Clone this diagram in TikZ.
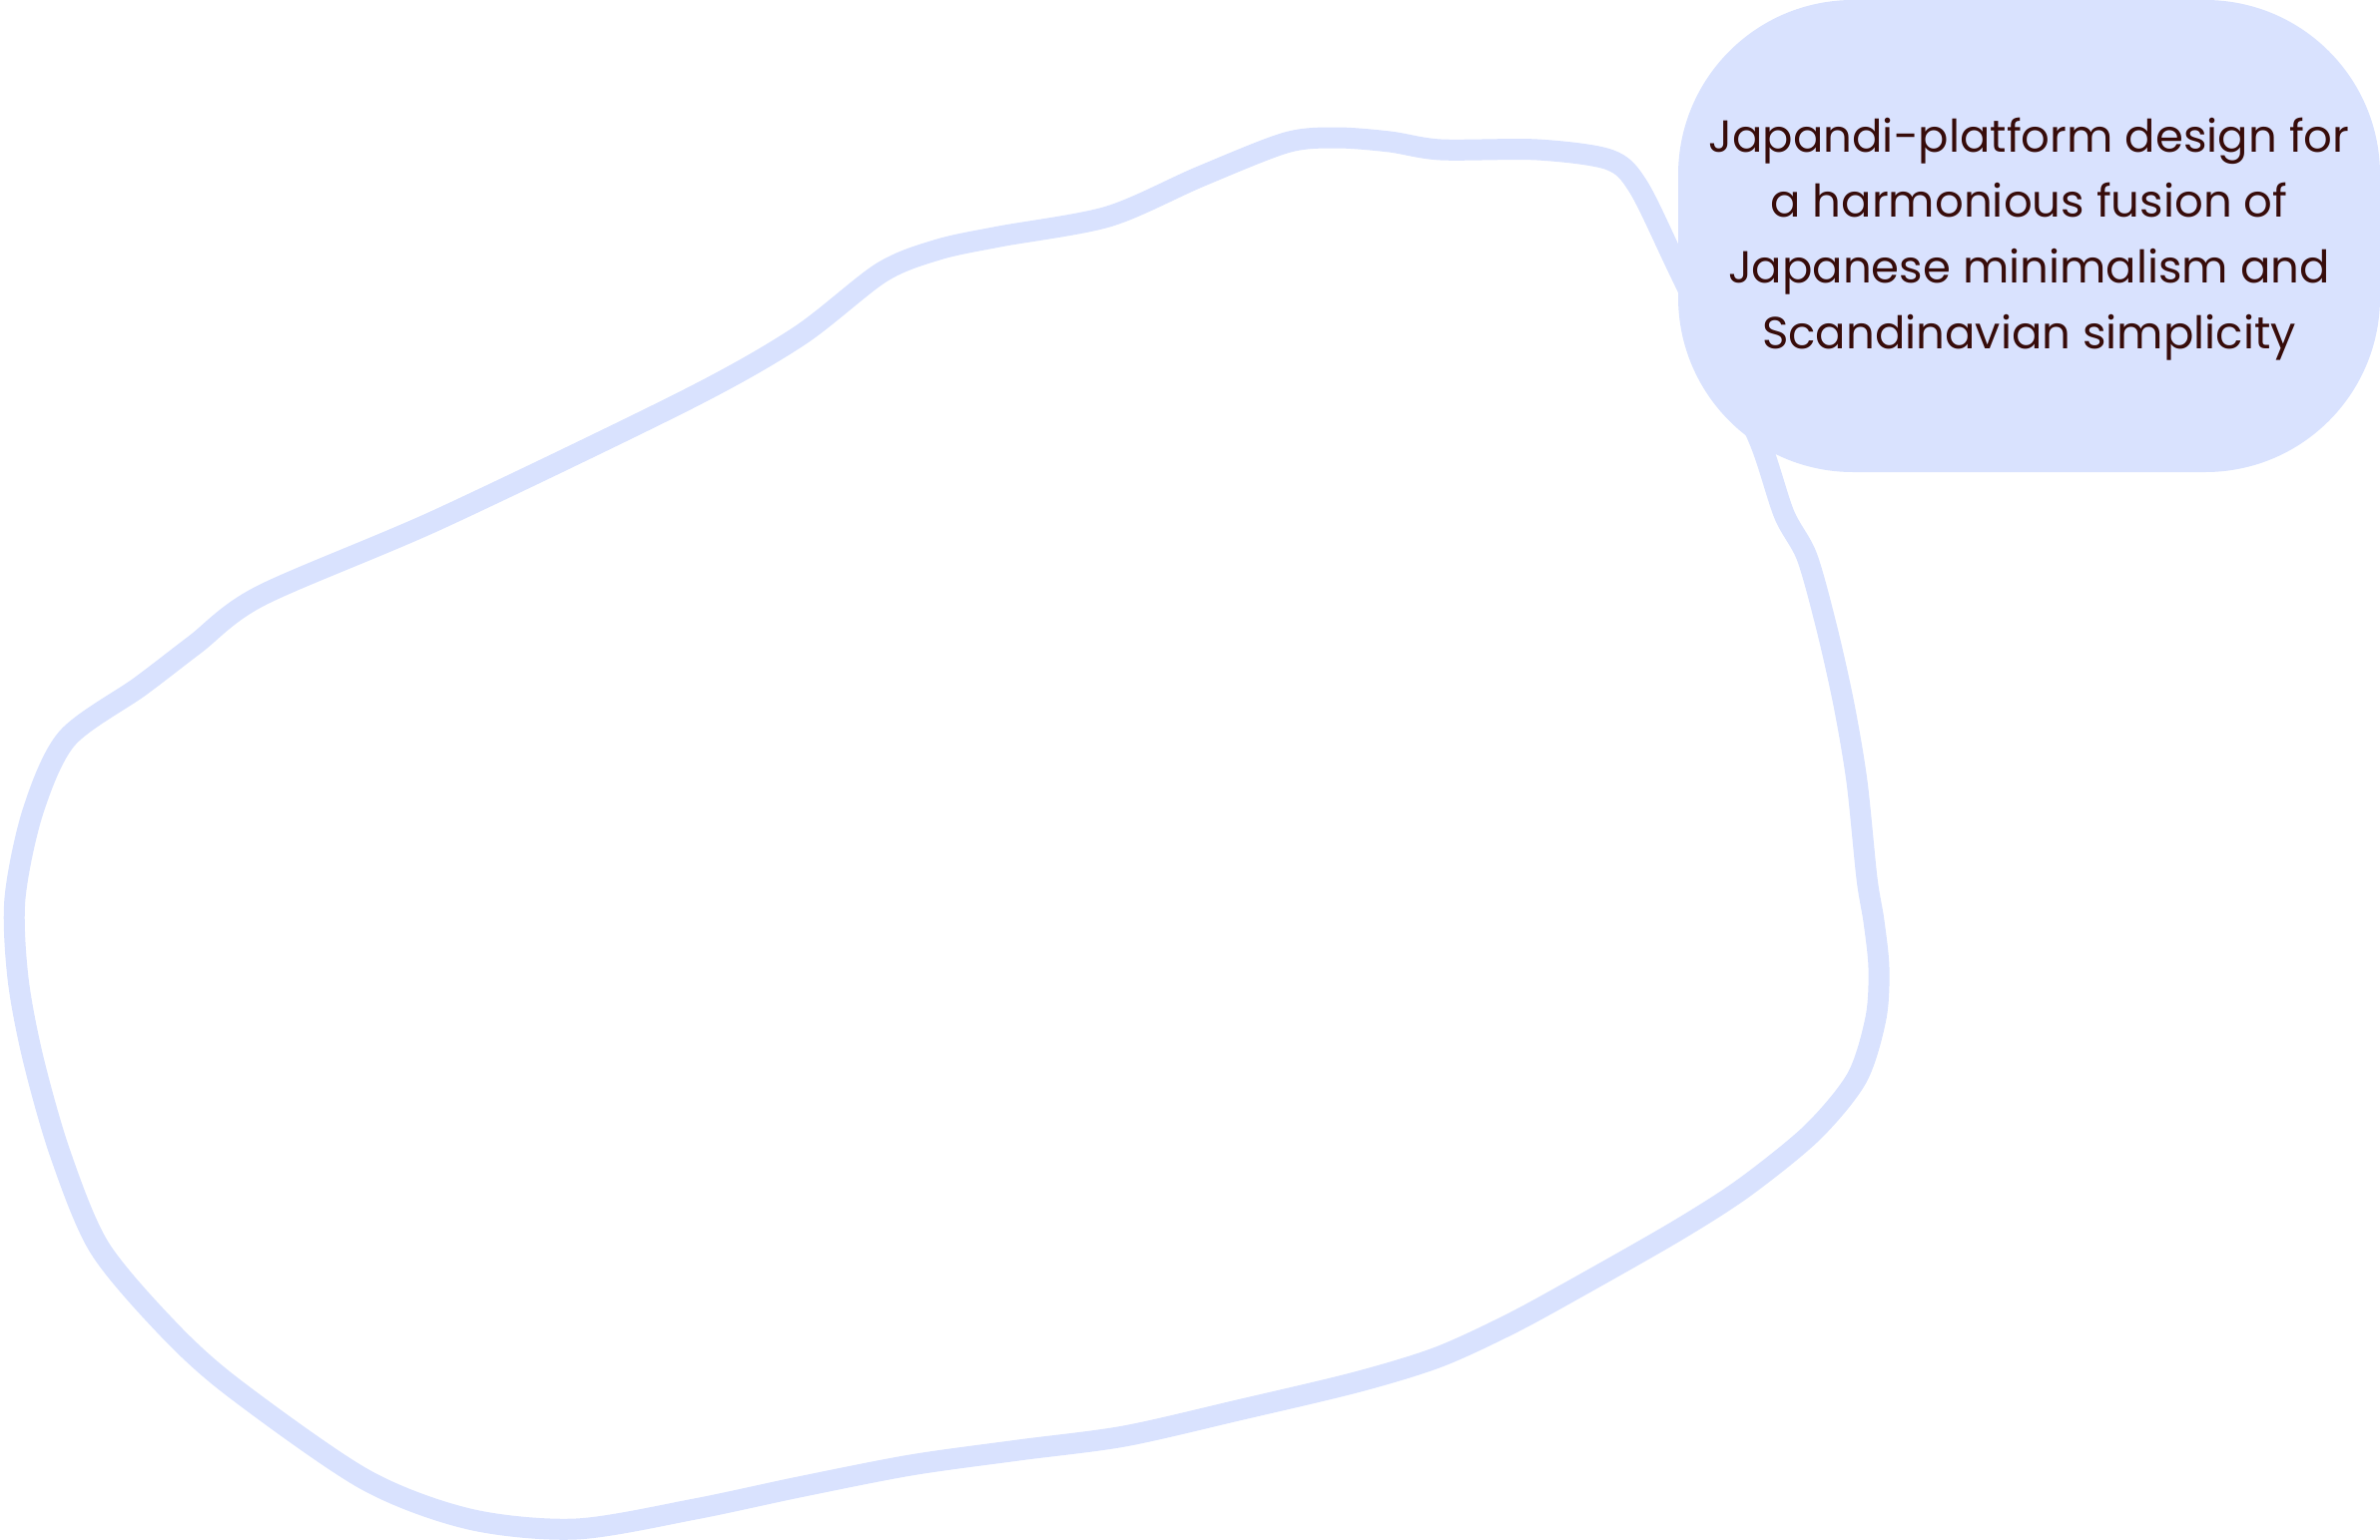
\documentclass[tikz,border=0pt]{standalone}
\usepackage{fontspec}
\setmainfont{Poppins}
\definecolor{blobblue}{RGB}{217,226,254}
\definecolor{inkbrown}{RGB}{55,12,10}
\begin{document}
\begin{tikzpicture}[x=1pt,y=-1pt,
  blobline/.style={draw=blobblue,line width=21pt,line join=round},
  notebox/.style={fill=blobblue,rounded corners=175pt,minimum width=703pt,minimum height=473pt,inner sep=0pt},
  notetext/.style={inner sep=0pt,align=center,text=inkbrown,font=\fontsize{45}{65.8}\selectfont}]
\useasboundingbox (0,0) rectangle (2384,1542);
\draw[blobline] plot[smooth cycle,tension=0.5] coordinates {
 (1338,138) (1392,142) (1443,150) (1540,150) (1612,160) (1641,187) (1680,267) (1722,355)
 (1763,443) (1787,515) (1810,558) (1830,630) (1847,706) (1860,783) (1870,880) (1877,923)
 (1882,970) (1879,1020) (1860,1080) (1815,1135) (1747,1190) (1680,1233) (1580,1290)
 (1512,1327) (1440,1360) (1358,1385) (1240,1413) (1126,1439) (1020,1453) (912,1468)
 (800,1490) (696,1512) (577,1532) (470,1522) (365,1482) (232,1389) (166,1329)
 (99,1249) (60,1155) (33,1060) (18,980) (15,900) (33,813) (67,740) (140,688) (195,646)
 (261,597) (440,520) (689,400) (800,337) (883,273) (940,250) (1001,237) (1110,217)
 (1202,177) (1288,143)};
\node[notebox] (note) at (2032.5,236.5) {};
\node[notetext] (notelabel) at ([yshift=-3pt]note.center) {Japandi-platform design for\\a harmonious fusion of\\Japanese minimalism and\\Scandinavian simplicity};
\end{tikzpicture}
\end{document}
